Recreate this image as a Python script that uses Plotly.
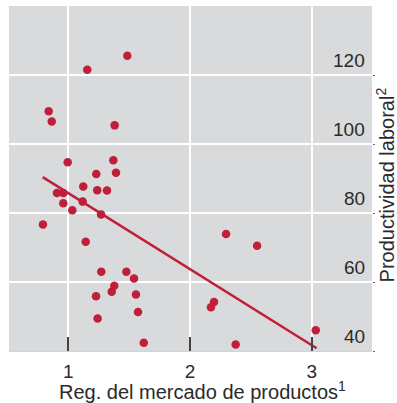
import plotly.graph_objects as go

# Data
reg_mercado = [1.485, 1.156, 0.839, 0.864, 1.381, 0.995, 1.370, 1.392, 1.230, 1.123,
               1.238, 1.318, 0.907, 0.959, 1.118, 0.959, 1.033, 1.269, 0.792, 1.143,
               1.271, 1.477, 1.540, 1.378, 1.357, 1.228, 1.556, 1.573, 1.241, 1.620,
               2.296, 2.551, 2.197, 2.172, 3.033, 2.375]
productividad = [125.6, 121.5, 109.5, 106.5, 105.4, 94.7, 95.3, 91.7, 91.3, 87.7,
                 86.6, 86.5, 85.8, 85.8, 83.3, 82.8, 80.8, 79.6, 76.7, 71.7,
                 63.0, 63.0, 61.0, 58.9, 57.2, 55.9, 56.4, 51.3, 49.4, 42.4,
                 73.9, 70.5, 54.2, 52.7, 46.0, 41.9]
trend_x = [0.79, 3.04]
trend_y = [90.4, 40.8]

x_ticks = [1, 2, 3]
y_ticks = [40, 60, 80, 100, 120]

RED = "#c01f39"
BG = "#d9dadc"
FONT = "Liberation Sans, Arial, Helvetica, sans-serif"
TXT = "#2a2a2a"

fig = go.Figure()
fig.add_trace(go.Scatter(x=trend_x, y=trend_y, mode="lines",
                         line=dict(color=RED, width=2.5), hoverinfo="skip"))
fig.add_trace(go.Scatter(x=reg_mercado, y=productividad, mode="markers",
                         marker=dict(color=RED, size=8.5, line=dict(width=0))))

annotations = [
    dict(text="Reg. del mercado de productos<sup>1</sup>", xref="paper", yref="paper",
         x=0.5, y=0, xshift=12, yshift=-39, xanchor="center", yanchor="middle",
         showarrow=False, font=dict(size=20, color=TXT)),
    dict(text="Productividad laboral<sup>2</sup>", xref="paper", yref="paper",
         x=1, y=0.48, xshift=13, xanchor="center", yanchor="middle", textangle=-90,
         showarrow=False, font=dict(size=20, color=TXT)),
]
for v in y_ticks:
    annotations.append(dict(text=str(v), xref="paper", yref="y", x=1, y=v,
                            xshift=-5, yshift=2, xanchor="right", yanchor="bottom",
                            showarrow=False, font=dict(size=19, color=TXT)))

fig.update_layout(
    width=397, height=403,
    margin=dict(l=9, r=25, t=6, b=52, autoexpand=False),
    paper_bgcolor="white", plot_bgcolor=BG,
    showlegend=False,
    font=dict(family=FONT, size=19, color=TXT),
    xaxis=dict(range=[0.513, 3.495], tickvals=x_ticks, ticktext=[str(v) for v in x_ticks],
               showgrid=True, gridcolor="white", gridwidth=2, zeroline=False,
               ticks="inside", ticklen=14, tickwidth=1.5, tickcolor="#444444",
               showline=True, linecolor="#d4d4d4", linewidth=1, automargin=False,
               ticklabelstandoff=3, tickfont=dict(size=19, color=TXT)),
    yaxis=dict(range=[40, 140], tickvals=y_ticks, showticklabels=False,
               side="right", showgrid=True, gridcolor="white", gridwidth=2, zeroline=False,
               ticks="outside", ticklen=2, tickwidth=1, tickcolor="#666666",
               automargin=False),
    annotations=annotations,
)

fig.write_html("out.html", config={"displayModeBar": False},
               post_script="document.body.style.margin='0';")
